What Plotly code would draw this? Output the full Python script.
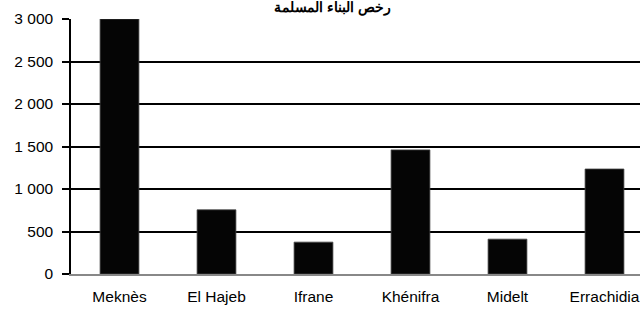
import plotly.graph_objects as go

categories = ["Meknès", "El Hajeb", "Ifrane", "Khénifra", "Midelt", "Errachidia"]
values = [3000, 755, 375, 1460, 410, 1235]
title_text = "رخص البناء المسلمة"
y_ticks = [0, 500, 1000, 1500, 2000, 2500, 3000]

fig = go.Figure()
fig.add_trace(go.Bar(
    x=categories, y=values,
    width=0.4,
    marker=dict(color="#050505", line=dict(color="#444444", width=0.8)),
))

fig.update_layout(
    width=640, height=311,
    margin=dict(l=71, r=0, t=19, b=37),
    paper_bgcolor="white", plot_bgcolor="white",
    separators=", ",
    showlegend=False,
    font=dict(family="Liberation Sans, Arial", size=16, color="black"),
    title=dict(text="<b>" + title_text + "</b>", x=0.519, xanchor="center",
               y=0.994, yanchor="top", font=dict(size=14, color="black")),
    bargap=0.6,
)
fig.update_xaxes(
    range=[-0.5, 5.366],
    showline=True, linecolor="#888888", linewidth=1.5,
    ticks="", showgrid=False,
    tickfont=dict(size=15.5), ticklabelstandoff=8,
)
fig.update_yaxes(
    range=[0, 3000],
    tickvals=y_ticks, tickformat=",d",
    showline=True, linecolor="black", linewidth=1.5,
    ticks="outside", ticklen=7, tickcolor="black", tickwidth=1.5,
    showgrid=True, gridcolor="black", gridwidth=1.5,
    zeroline=False,
    tickfont=dict(size=15.5), ticklabelstandoff=6,
)

fig.write_html("out.html", config={"displayModeBar": False},
               post_script="document.body.style.margin='0';")
